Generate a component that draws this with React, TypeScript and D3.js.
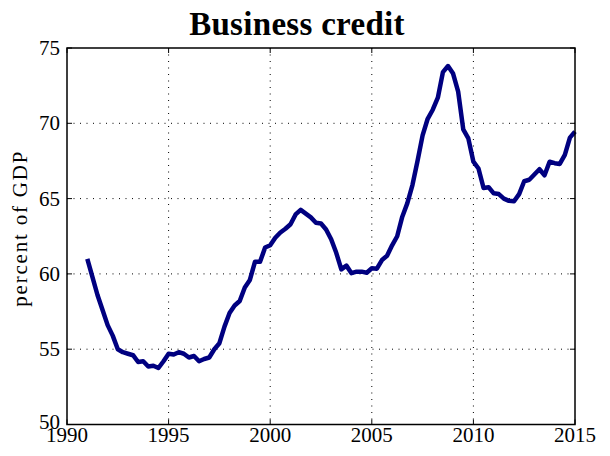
import React from "react";
import * as d3 from "d3";

const startYear = 1991;
const values: number[] = [
  61.0, 59.8, 58.6, 57.6, 56.6, 55.9, 55.0, 54.8,
  54.7, 54.6, 54.15, 54.2, 53.85, 53.9, 53.75, 54.2,
  54.7, 54.65, 54.8, 54.7, 54.45, 54.55, 54.2, 54.35,
  54.45, 55.0, 55.4, 56.5, 57.4, 57.9, 58.2, 59.1,
  59.6, 60.8, 60.8, 61.75, 61.9, 62.4, 62.75, 63.0,
  63.3, 63.95, 64.25, 64.0, 63.75, 63.4, 63.35, 62.95,
  62.3, 61.4, 60.3, 60.55, 60.05, 60.15, 60.15, 60.08,
  60.37, 60.35, 60.92, 61.2, 61.9, 62.5, 63.8, 64.7,
  65.9, 67.5, 69.2, 70.3, 70.9, 71.7, 73.4, 73.8,
  73.3, 72.1, 69.6, 69.0, 67.45, 67.0, 65.7, 65.75,
  65.35, 65.3, 65.0, 64.85, 64.82, 65.3, 66.15, 66.25,
  66.6, 66.95, 66.55, 67.45, 67.35, 67.3, 67.9, 69.05,
  69.45,
];
const xTicks = [1990, 1995, 2000, 2005, 2010, 2015];
const yTicks = [50, 55, 60, 65, 70, 75];
const title = "Business credit";
const yLabel = "percent of GDP";

export default function App() {
  const W = 610, H = 456;
  const left = 67, right = 575, top = 48, bottom = 424.5;
  const x = d3.scaleLinear().domain([1990, 2015]).range([left, right]);
  const y = d3.scaleLinear().domain([50, 75]).range([bottom, top]);
  const pts: [number, number][] = values.map((v, i) => [startYear + i * 0.25, v]);
  const line = d3.line<[number, number]>().x(d => x(d[0])).y(d => y(d[1]));
  const serif = "'Liberation Serif', 'Times New Roman', serif";
  const tl = 5;
  return (
    <svg width={W} height={H} style={{ position: "absolute", left: 0, top: 0, background: "#fff" }}>
      <rect x={0} y={0} width={W} height={H} fill="#fff" />
      {xTicks.slice(1, -1).map(t => (
        <line key={"gx" + t} x1={x(t)} x2={x(t)} y1={top} y2={bottom} stroke="#000" strokeWidth={1} strokeDasharray="1,5.5" />
      ))}
      {yTicks.slice(1, -1).map(t => (
        <line key={"gy" + t} x1={left} x2={right} y1={y(t)} y2={y(t)} stroke="#000" strokeWidth={1} strokeDasharray="1,5.5" />
      ))}
      {xTicks.map(t => (
        <g key={"tx" + t}>
          <line x1={x(t)} x2={x(t)} y1={bottom} y2={bottom - tl} stroke="#000" strokeWidth={1} />
          <line x1={x(t)} x2={x(t)} y1={top} y2={top + tl} stroke="#000" strokeWidth={1} />
          <text x={x(t)} y={bottom + 17} fontFamily={serif} fontSize={21} textAnchor="middle">{t}</text>
        </g>
      ))}
      {yTicks.map(t => (
        <g key={"ty" + t}>
          <line x1={left} x2={left + tl} y1={y(t)} y2={y(t)} stroke="#000" strokeWidth={1} />
          <line x1={right} x2={right - tl} y1={y(t)} y2={y(t)} stroke="#000" strokeWidth={1} />
          <text x={left - 7} y={y(t) - (t === 50 ? 2 : 0)} dy="0.33em" fontFamily={serif} fontSize={21} textAnchor="end">{t}</text>
        </g>
      ))}
      <path d={line(pts) || ""} fill="none" stroke="#000080" strokeWidth={4.5} strokeLinejoin="round" strokeLinecap="butt" />
      <rect x={left} y={top} width={right - left} height={bottom - top} fill="none" stroke="#000" strokeWidth={1.5} />
      <text x={297} y={35} fontFamily={serif} fontWeight="bold" fontSize={33} letterSpacing={0.3} textAnchor="middle">{title}</text>
      <text transform={`translate(27,${(top + bottom) / 2 - 8}) rotate(-90)`} fontFamily={serif} fontSize={21} letterSpacing={1.8} textAnchor="middle">{yLabel}</text>
    </svg>
  );
}
